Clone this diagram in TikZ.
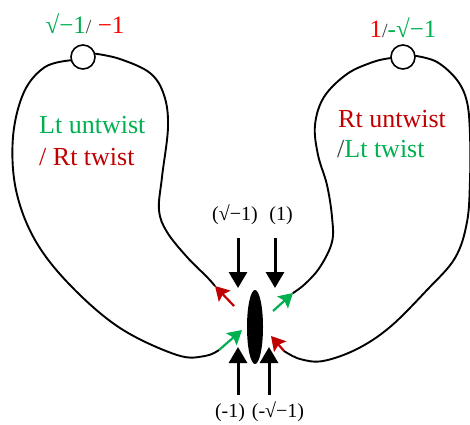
\documentclass[tikz,border=0pt]{standalone}
\usepackage{fontspec}
\setmainfont{Liberation Serif}
\usepackage{xcolor}
\usepackage{tikz}
\usetikzlibrary{shapes.geometric, arrows.meta}
\definecolor{twistgreen}{RGB}{0, 176, 80}
\definecolor{twistred}{RGB}{192, 0, 0}
\definecolor{signred}{RGB}{255, 0, 0}
\definecolor{slashgray}{RGB}{64, 64, 64}

\begin{document}
\begin{tikzpicture}[x=1pt, y=-1pt,
    loop/.style={line width=1.9pt, line cap=round},
    port/.style={circle, draw, line width=1.6pt, fill=white, minimum size=24pt, inner sep=0pt},
    push/.style={line width=3pt, -{Triangle[width=18pt, length=16pt]}},
    flow/.style={line width=2.2pt, -{Stealth[width=16pt, length=14pt, inset=2.5pt]}},
    sign/.style={font=\fontsize{25}{30}\selectfont, anchor=base, inner sep=0pt},
    twist/.style={font=\fontsize{26}{31}\selectfont, anchor=base west, inner sep=0pt},
    phase/.style={font=\fontsize{20}{24}\selectfont, anchor=base, inner sep=0pt}]

    \useasboundingbox (0,0) rectangle (470,424);

    % 1. PORTS AND CORE
    \node[port] (portL) at (83,57) {};
    \node[port] (portR) at (403,57) {};
    \node[ellipse, fill, minimum width=16pt, minimum height=74pt, inner sep=0pt] (core) at (255,327) {};

    % 2. ARROW END POINTS NEAR THE CORE
    \coordinate (lrTail) at (234,306);
    \coordinate (lrTip) at (215,286);
    \coordinate (lgTail) at (219,350);
    \coordinate (lgTip) at (242,330);
    \coordinate (rgTail) at (273,311);
    \coordinate (rgTip) at (293,293);
    \coordinate (rrTail) at (284,351);
    \coordinate (rrTip) at (271,336);

    % 3. LOOPS (left, then right)
    \draw[loop] plot[smooth, tension=0.6] coordinates {(portL.195) (45,67) (24,92) (13,137) (16,190)
        (35,240) (70,285) (120,328) (177,355) (205,356) (lgTail)};
    \draw[loop] plot[smooth, tension=0.6] coordinates {(portL.15) (120,59) (150,73) (164,95) (168,127)
        (162,177) (159,210) (167,232) (187,257) (207,277) (lrTip)};
    \draw[loop] plot[smooth, tension=0.6] coordinates {(portR.185) (373,62) (347,74) (324,97) (315,125)
        (318,155) (327,185) (332,217) (332,242) (320,267) (305,284) (rgTip)};
    \draw[loop] plot[smooth, tension=0.6] coordinates {(portR.5) (437,62) (457,80) (467,102) (470,135)
        (470,180) (467,222) (455,258) (427,290) (390,327) (357,349) (323,361) (300,359) (rrTail)};

    % 4. COLOURED FLOW ARROWS
    \draw[flow, twistred] (lrTail) -- (lrTip);
    \draw[flow, twistgreen] (lgTail) -- (lgTip);
    \draw[flow, twistgreen] (rgTail) -- (rgTip);
    \draw[flow, twistred] (rrTail) -- (rrTip);

    % 5. BLACK PUSH ARROWS
    \foreach \n/\x/\ya/\yb in {pa/238/238/288, pb/275/238/288, pc/238/395/347, pd/269/395/347} {
        \coordinate (\n s) at (\x,\ya);
        \coordinate (\n e) at (\x,\yb);
        \draw[push] (\n s) -- (\n e);
    }

    % 6. TEXT
    \node[phase] (phA) at (235,220) {(√−1)};
    \node[phase] (phB) at (281,220) {(1)};
    \node[phase] (phC) at (230,417) {(-1)};
    \node[phase] (phD) at (278,417) {(-√−1)};

    \node[sign] (sigL) at (85,33) {\textcolor{twistgreen}{√−1}{\fontsize{20}{24}\selectfont\textcolor{slashgray}{/}} \textcolor{signred}{−1}};
    \node[sign] (sigR) at (403,37) {\textcolor{signred}{1}{\fontsize{20}{24}\selectfont\textcolor{slashgray}{/}}\textcolor{twistgreen}{-√−1}};

    \node[twist, text=twistgreen] (twL1) at (39,133) {Lt untwist};
    \node[twist, text=twistred] (twL2) at (39,165) {/ Rt twist};
    \node[twist, text=twistred] (twR1) at (338,127) {Rt untwist};
    \node[twist] (twR2) at (337,157) {\textcolor{slashgray}{/}\textcolor{twistgreen}{Lt twist}};

\end{tikzpicture}
\end{document}
